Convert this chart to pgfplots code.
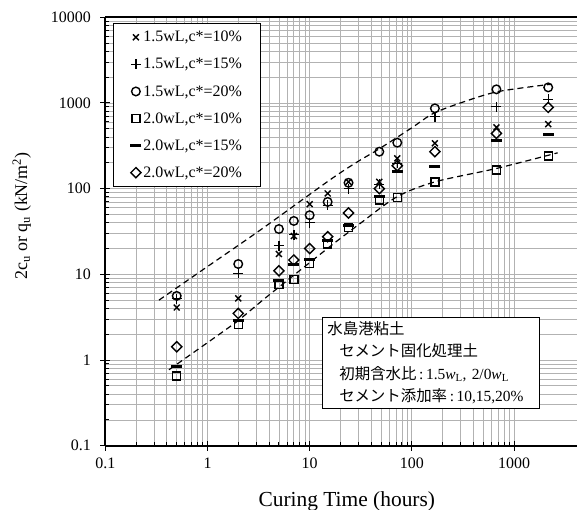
\documentclass[border=0pt]{standalone}
\usepackage{fontspec}
\setmainfont{Liberation Serif}
\newfontfamily\jp{Noto Sans CJK JP}
\usepackage{pgfplots}
\usepackage{pgfplotstable}
\pgfplotsset{compat=1.18}
\pgfplotstableread{
t a b c d e f
0.5 4.1 5.2 5.6 0.65 0.84 1.43
2 5.25 10.3 13.2 2.6 2.93 3.5
5 17.3 21.6 33.8 7.6 8.4 11
7 28 29 42 8.7 13.2 14.7
10 66 40 49 13.4 15 20
15 88 64 70 22.6 25 27.5
24 120 100 117 35 37 52
48 120 112 270 74 82 100
72 226 197 344 79 157 185
168 338 690 865 120 180 270
672 519 903 1443 165 369 441
2160 567 1100 1520 240 423 888
}\datatab
\pgfplotstableread{
t q
0.335 5.0
0.89 11.2
3.3 33
15.7 126
28.8 203
48 292
100 514
163 757
321 1030
685 1352
1968 1618
2300 1640
}\uppercurve
\pgfplotstableread{
t q
0.42 0.77
2 2.88
3.47 5.0
15.7 21
24 31
31 39
71 80
168 120
685 173
2670 262
}\lowercurve
\begin{document}
\begin{tikzpicture}
\path[use as bounding box] (0bp,0bp) rectangle (577bp,510bp);
\begin{axis}[
  at={(105.3bp,64.3bp)}, anchor=south west,
  width=471.7bp, height=428.4bp, scale only axis,
  xmode=log, ymode=log,
  xmin=0.1, xmax=4130, ymin=0.1, ymax=10000,
  xtick={0.1,1,10,100,1000}, xticklabels={0.1,1,10,100,1000},
  ytick={0.1,1,10,100,1000,10000}, yticklabels={0.1,1,10,100,1000,10000},
  extra x ticks={0.1,1,10,100,1000}, extra x tick labels={},
  extra y ticks={0.1,1,10,100,1000,10000}, extra y tick labels={},
  extra tick style={tick align=outside, major tick length=5bp, grid=none},
  /pgf/number format/assume math mode=true,
  axis x line*=box, axis y line*=left,
  xtick pos=bottom, ytick pos=left,
  tick align=inside, major tick length=5bp, minor tick length=4bp,
  grid=both,
  major grid style={draw=black!30, line width=0.8bp},
  minor grid style={draw=black!30, line width=0.8bp},
  axis line style={line width=1.8bp, black},
  every tick/.style={black, line width=1bp},
  tick label style={font=\fontsize{16}{19}\selectfont},
  xticklabel style={yshift=-9bp},
  yticklabel style={xshift=-11bp},
  xlabel={Curing Time (hours)},
  ylabel={2c\textsubscript{u} or q\textsubscript{u} (kN/m\textsuperscript{2})},
  xlabel style={font=\fontsize{21.5}{24}\selectfont, at={(axis description cs:0.512,-0.141)}, anchor=base},
  ylabel style={font=\fontsize{18}{21}\selectfont, at={(axis description cs:-0.177,0.536)}, anchor=center},
  legend image code/.code={\draw[#1] plot coordinates {(0bp,0bp)};},
  legend style={at={(rel axis cs:0.0163,0.987)}, anchor=north west, draw=black, line width=0.8bp, fill=white,
    font=\fontsize{16}{19}\selectfont, row sep=11bp, inner xsep=17bp, inner ysep=6bp, cells={anchor=west}},
]
\addplot[forget plot, black, dashed, dash pattern=on 6bp off 4bp, line width=1.2bp, smooth] table[x=t,y=q]{\uppercurve};
\addplot[forget plot, black, dashed, dash pattern=on 6bp off 4bp, line width=1.2bp, smooth] table[x=t,y=q]{\lowercurve};
\addplot[only marks, black, line width=1.4bp, mark=x, mark size=4.2bp] table[x=t,y=a]{\datatab};
\addlegendentry{1.5wL,c*=10\%}
\addplot[only marks, black, line width=1.4bp, mark=+, mark size=5bp] table[x=t,y=b]{\datatab};
\addlegendentry{1.5wL,c*=15\%}
\addplot[only marks, black, line width=1.4bp, mark=o, mark size=4.3bp] table[x=t,y=c]{\datatab};
\addlegendentry{1.5wL,c*=20\%}
\addplot[only marks, black, line width=1.4bp, mark=square, mark size=4bp] table[x=t,y=d]{\datatab};
\addlegendentry{2.0wL,c*=10\%}
\addplot[only marks, black, line width=3bp, mark=-, mark size=5.5bp] table[x=t,y=e]{\datatab};
\addlegendentry{2.0wL,c*=15\%}
\addplot[only marks, black, line width=1.4bp, mark=square, mark size=3.6bp, mark options={rotate=45}] table[x=t,y=f]{\datatab};
\addlegendentry{2.0wL,c*=20\%}
\node[draw=black, line width=0.8bp, fill=white, anchor=north west, inner xsep=5bp, inner ysep=4bp,
  text width=207bp, align=left, font=\fontsize{15.5}{22.5}\selectfont] at (rel axis cs:0.4594,0.3004)
  {{\jp 水島港粘土}\\
   \hspace*{12bp}{\jp セメント固化処理土}\\
   \hspace*{12bp}{\jp 初期含水比}\,:\,1.5\textit{w}\textsubscript{L}, 2/0\textit{w}\textsubscript{L}\\
   \hspace*{12bp}{\jp セメント添加率}\,:\,10,15,20\%};
\end{axis}
\end{tikzpicture}
\end{document}
